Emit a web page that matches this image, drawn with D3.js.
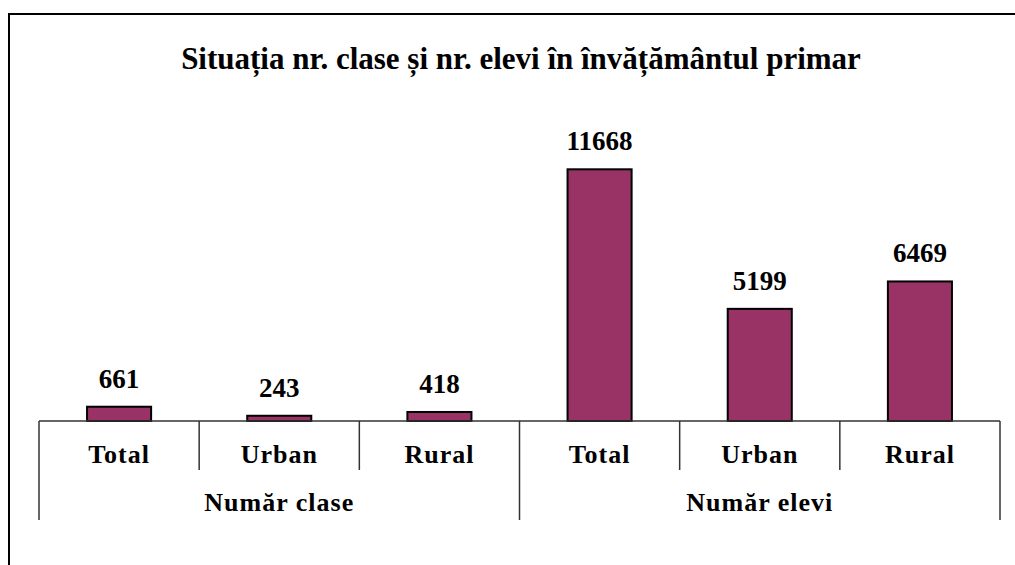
<!DOCTYPE html>
<html>
  <head>
    <meta charset="utf-8">
    <title>Situația nr. clase și nr. elevi</title>
    <script src="https://d3js.org/d3.v7.min.js"></script>
    <style>
      body { margin: 0; background: #fff; }
      text { font-family: "Liberation Serif", "Times New Roman", serif; font-weight: bold; fill: #000; }
    </style>
  </head>
  <body>
    <div id="chart"></div>
    <script>
      // data
      var groups = ["Număr clase", "Număr elevi"];
      var categories = ["Total", "Urban", "Rural"];
      var claseValues = [661, 243, 418];
      var eleviValues = [11668, 5199, 6469];
      var title = "Situația nr. clase și nr. elevi în învățământul primar";

      var data = [];
      groups.forEach(function(g, gi) {
        var vals = gi === 0 ? claseValues : eleviValues;
        categories.forEach(function(c, ci) {
          data.push({group: g, cat: c, key: g + "|" + c, value: vals[ci]});
        });
      });

      var W = 1015, H = 565;
      var baseY = 421, topY = 119, left = 39, right = 1000;

      var svg = d3.select("#chart").append("svg")
          .attr("width", W)
          .attr("height", H);

      // chart frame (right and bottom edges fall outside the picture)
      svg.append("rect")
          .attr("x", 9).attr("y", 14)
          .attr("width", 1040).attr("height", 600)
          .attr("fill", "none")
          .attr("stroke", "#000")
          .attr("stroke-width", 2);

      svg.append("text")
          .attr("x", 521).attr("y", 69)
          .attr("text-anchor", "middle")
          .style("font-size", "31px")
          .text(title);

      var x = d3.scaleBand()
          .domain(data.map(function(d) { return d.key; }))
          .range([left, right])
          .paddingInner(0);

      var gx = d3.scaleBand()
          .domain(groups)
          .range([left, right]);

      var y = d3.scaleLinear()
          .domain([0, 14000])
          .range([baseY, topY]);

      var barW = x.bandwidth() * 0.4;

      svg.selectAll(".bar")
        .data(data)
        .enter().append("rect")
          .attr("class", "bar")
          .attr("x", function(d) { return x(d.key) + (x.bandwidth() - barW) / 2; })
          .attr("y", function(d) { return y(d.value); })
          .attr("width", barW)
          .attr("height", function(d) { return baseY - y(d.value); })
          .attr("fill", "#993366")
          .attr("stroke", "#000")
          .attr("stroke-width", 2);

      svg.selectAll(".val")
        .data(data)
        .enter().append("text")
          .attr("class", "val")
          .attr("x", function(d) { return x(d.key) + x.bandwidth() / 2; })
          .attr("y", function(d) { return y(d.value) - 19; })
          .attr("text-anchor", "middle")
          .style("font-size", "27px")
          .text(function(d) { return d.value; });

      // category axis
      svg.append("line")
          .attr("x1", left).attr("x2", right)
          .attr("y1", baseY).attr("y2", baseY)
          .attr("stroke", "#333").attr("stroke-width", 1.5);

      var bounds = x.domain().map(function(k) { return x(k); }).concat([right]);
      svg.selectAll(".tick")
        .data(bounds)
        .enter().append("line")
          .attr("class", "tick")
          .attr("x1", function(d) { return d; })
          .attr("x2", function(d) { return d; })
          .attr("y1", baseY)
          .attr("y2", function(d, i) { return i % 3 === 0 ? 520 : 470; })
          .attr("stroke", "#333").attr("stroke-width", 1.5);

      svg.selectAll(".cat")
        .data(data)
        .enter().append("text")
          .attr("class", "cat")
          .attr("x", function(d) { return x(d.key) + x.bandwidth() / 2; })
          .attr("y", 463)
          .attr("text-anchor", "middle")
          .style("font-size", "26px")
          .style("letter-spacing", "1px")
          .text(function(d) { return d.cat; });

      svg.selectAll(".grp")
        .data(groups)
        .enter().append("text")
          .attr("class", "grp")
          .attr("x", function(d) { return gx(d) + gx.bandwidth() / 2; })
          .attr("y", 511)
          .attr("text-anchor", "middle")
          .style("font-size", "26px")
          .style("letter-spacing", "1px")
          .text(function(d) { return d; });
    </script>
  </body>
</html>
